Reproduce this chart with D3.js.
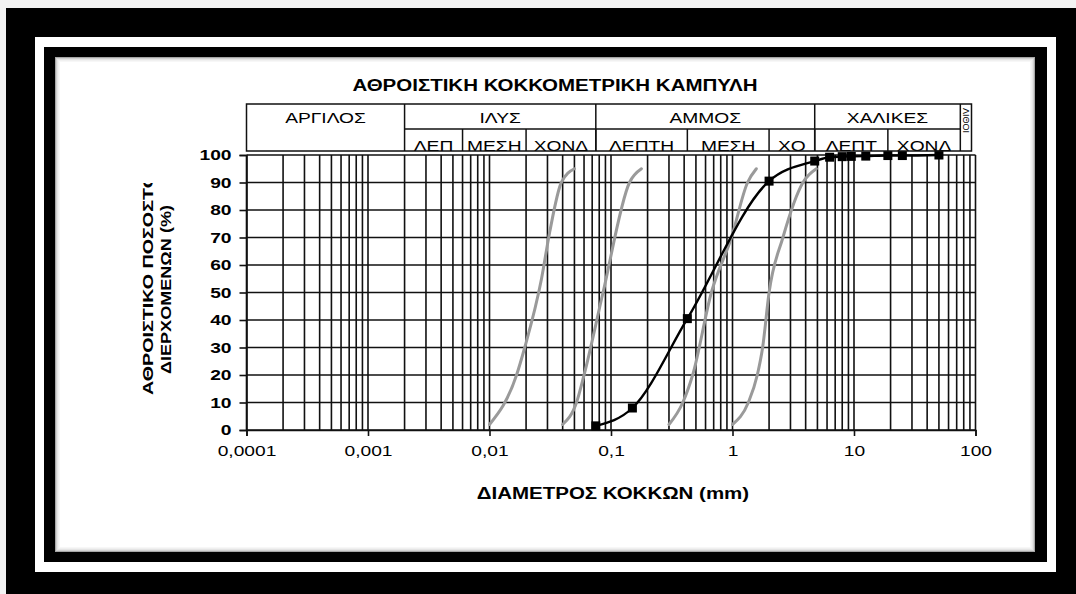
<!DOCTYPE html>
<html>
<head>
<meta charset="utf-8">
<script src="https://cdn.jsdelivr.net/npm/d3@7"></script>
<style>
  html, body { margin: 0; padding: 0; background: #f3f3f3; }
  svg { display: block; font-family: "Liberation Sans", Arial, sans-serif; }
</style>
</head>
<body>
<svg id="chart" width="1076" height="594"></svg>
<script>
// Sample gradation: sieve opening (mm) and cumulative % passing
const sieveSizes     = [0.075, 0.15, 0.425, 2, 4.75, 6.3, 8, 9.5, 12.5, 19, 25, 50];
const percentPassing = [1.5, 8, 40.5, 90.5, 97.8, 99.2, 99.4, 99.5, 99.6, 99.8, 99.8, 100];

// Grading envelope curves (grain size mm, % passing)
const curve1Size = [0.01, 0.0167, 0.0195, 0.0268, 0.0313, 0.039, 0.05];
const curve1Pass = [2, 20, 30, 55, 72, 90, 95];
const curve2Size = [0.04, 0.052, 0.06, 0.086, 0.142, 0.178];
const curve2Pass = [2, 10, 20, 50, 90, 95];
const curve3Size = [0.3, 0.39, 0.47, 0.67, 0.98, 1.33, 1.57];
const curve3Pass = [2, 10, 20, 50, 70, 90, 95];
const curve4Size = [1.0, 1.35, 1.6, 1.77, 2.0, 2.6, 3.8, 4.9];
const curve4Pass = [2, 10, 20, 30, 50, 70, 90, 95];

// Axis ticks
const xTickValues = [0.0001, 0.001, 0.01, 0.1, 1, 10, 100];
const xTickLabels = ["0,0001", "0,001", "0,01", "0,1", "1", "10", "100"];
const yTickValues = [0, 10, 20, 30, 40, 50, 60, 70, 80, 90, 100];

// Soil classification bands (boundaries in mm)
const mainClasses = ["ΑΡΓΙΛΟΣ", "ΙΛΥΣ", "ΑΜΜΟΣ", "ΧΑΛΙΚΕΣ"];
const mainBounds  = [0.0001, 0.002, 0.075, 4.75, 75];
const subClasses  = ["ΛΕΠ", "ΜΕΣΗ", "ΧΟΝΔ", "ΛΕΠΤΗ", "ΜΕΣΗ", "ΧΟ", "ΛΕΠΤ", "ΧΟΝΔ"];
const subBounds   = [0.002, 0.006, 0.02, 0.075, 0.425, 2, 4.75, 19, 75];

const titleText = "ΑΘΡΟΙΣΤΙΚΗ ΚΟΚΚΟΜΕΤΡΙΚΗ ΚΑΜΠΥΛΗ";
const xTitle = "ΔΙΑΜΕΤΡΟΣ ΚΟΚΚΩΝ (mm)";
const yTitleLines = ["ΑΘΡΟΙΣΤΙΚΟ ΠΟΣΟΣΤΟ", "ΔΙΕΡΧΟΜΕΝΩΝ (%)"];
const bouldersLabel = "ΛΙΘΟΙ";

const svg = d3.select("#chart");
const W = 1076, H = 594;

// ---- decorative frame ----
svg.append("rect").attr("width", W).attr("height", H).attr("fill", "#f3f3f3");
svg.append("rect").attr("x", 6).attr("y", 8).attr("width", W - 6).attr("height", H - 8).attr("fill", "#000");
svg.append("rect").attr("x", 35).attr("y", 37).attr("width", 1021).attr("height", 535).attr("fill", "#fff");
svg.append("rect").attr("x", 44).attr("y", 47).attr("width", 1003).attr("height", 515).attr("fill", "#000");
const panel = { x: 55, y: 57, w: 980, h: 495 };
svg.append("rect").attr("x", panel.x).attr("y", panel.y).attr("width", panel.w).attr("height", panel.h).attr("fill", "#fff");
// soft inset shadow along the panel edges
[0.35, 0.18, 0.10, 0.06, 0.03].forEach((o, i) => {
  svg.append("rect")
    .attr("x", panel.x + 0.5 + i).attr("y", panel.y + 0.5 + i)
    .attr("width", panel.w - 1 - 2 * i).attr("height", panel.h - 1 - 2 * i)
    .attr("fill", "none").attr("stroke", "#000").attr("stroke-opacity", o);
});

// ---- scales ----
const x = d3.scaleLog().domain([1e-4, 100]).range([246.5, 975.5]);
const y = d3.scaleLinear().domain([0, 100]).range([430, 155]);

const g = svg.append("g");

// ---- grid ----
const minorValues = [];
for (let e = -4; e <= 1; e++) for (let k = 1; k <= 9; k++) minorValues.push(k * Math.pow(10, e));
minorValues.push(100);

g.append("g").selectAll("line").data(minorValues).join("line")
  .attr("x1", d => x(d)).attr("x2", d => x(d))
  .attr("y1", y(0)).attr("y2", y(100))
  .attr("stroke", "#111").attr("stroke-width", 1.6);

g.append("g").selectAll("line").data(yTickValues).join("line")
  .attr("x1", x(1e-4)).attr("x2", x(100))
  .attr("y1", d => y(d)).attr("y2", d => y(d))
  .attr("stroke", "#111").attr("stroke-width", 1.6);

// ---- axes ----
const yAxis = g.append("g").attr("transform", `translate(${x(1e-4)},0)`)
  .call(d3.axisLeft(y).tickValues(yTickValues).tickSize(7).tickPadding(8));
const xAxis = g.append("g").attr("transform", `translate(0,${y(0)})`)
  .call(d3.axisBottom(x).tickValues(xTickValues).tickSize(6).tickPadding(9)
        .tickFormat((d, i) => xTickLabels[i]));
[yAxis, xAxis].forEach(a => {
  a.selectAll("path, line").attr("stroke", "#111").attr("stroke-width", 1.6);
  a.selectAll("text").attr("fill", "#000").attr("font-family", "Liberation Sans, Arial, sans-serif")
    .attr("class", "stretch");
});
yAxis.selectAll("text").attr("font-size", 15).attr("font-weight", "bold");
xAxis.selectAll("text").attr("font-size", 15);

// ---- envelope curves ----
const curveLine = d3.line().x(d => x(d[0])).y(d => y(d[1])).curve(d3.curveMonotoneX);
const envelopes = [
  d3.zip(curve1Size, curve1Pass),
  d3.zip(curve2Size, curve2Pass),
  d3.zip(curve3Size, curve3Pass),
  d3.zip(curve4Size, curve4Pass)
];
g.append("g").selectAll("path").data(envelopes).join("path")
  .attr("d", curveLine).attr("fill", "none")
  .attr("stroke", "#9a9a9a").attr("stroke-width", 3).attr("stroke-linecap", "round");

// ---- sample curve ----
const sample = d3.zip(sieveSizes, percentPassing);
g.append("path").datum(sample).attr("d", curveLine)
  .attr("fill", "none").attr("stroke", "#000").attr("stroke-width", 2.4);
const ms = 9;
g.append("g").selectAll("rect").data(sample).join("rect")
  .attr("x", d => x(d[0]) - ms / 2).attr("y", d => y(d[1]) - ms / 2)
  .attr("width", ms).attr("height", ms).attr("fill", "#000");

// ---- classification table above the plot ----
const tTop = 104, tMid = 129, tBot = 151;
const tLeft = x(1e-4), tRight = x(100) - 4;
const tbl = svg.append("g").attr("stroke", "#111").attr("stroke-width", 1.5);
tbl.append("rect").attr("x", tLeft).attr("y", tTop).attr("width", tRight - tLeft).attr("height", tBot - tTop).attr("fill", "none");
tbl.selectAll("line.main").data(mainBounds.slice(1)).join("line")
  .attr("x1", d => x(d)).attr("x2", d => x(d)).attr("y1", tTop).attr("y2", tBot);
tbl.append("line").attr("x1", x(0.002)).attr("x2", x(75)).attr("y1", tMid).attr("y2", tMid);
tbl.selectAll("line.sub").data(subBounds.slice(1, -1)).join("line")
  .attr("x1", d => x(d)).attr("x2", d => x(d)).attr("y1", tMid).attr("y2", tBot);

const headerText = svg.append("g").attr("font-size", 15).attr("fill", "#000").attr("text-anchor", "middle");
headerText.selectAll("text.main").data(mainClasses).join("text")
  .attr("class", "stretch")
  .attr("x", (d, i) => (x(mainBounds[i]) + x(mainBounds[i + 1])) / 2)
  .attr("y", 123).text(d => d);
// lower row text sits on the table bottom edge, so clip it there
svg.append("clipPath").attr("id", "subclip").append("rect")
  .attr("x", tLeft).attr("y", tMid).attr("width", tRight - tLeft).attr("height", tBot - tMid);
headerText.append("g").attr("clip-path", "url(#subclip)")
  .selectAll("text").data(subClasses).join("text")
  .attr("class", "stretch")
  .attr("x", (d, i) => (x(subBounds[i]) + x(subBounds[i + 1])) / 2)
  .attr("y", 151).text(d => d);
tbl.raise();

// narrow boulders column with rotated label
svg.append("clipPath").attr("id", "bclip").append("rect")
  .attr("x", x(75)).attr("y", tTop).attr("width", tRight - x(75)).attr("height", tBot - tTop);
svg.append("g").attr("clip-path", "url(#bclip)").append("text")
  .attr("transform", `translate(${(x(75) + tRight) / 2 - 3},${tTop + 4}) rotate(90)`)
  .attr("font-size", 9).attr("fill", "#000").text(bouldersLabel);

// ---- titles ----
svg.append("text").attr("class", "stretch").attr("x", 555).attr("y", 91)
  .attr("text-anchor", "middle").attr("font-size", 16).attr("font-weight", "bold")
  .text(titleText);
svg.append("text").attr("class", "stretch").attr("x", 613).attr("y", 499)
  .attr("text-anchor", "middle").attr("font-size", 16).attr("font-weight", "bold")
  .text(xTitle);

svg.append("clipPath").attr("id", "yclip").append("rect")
  .attr("x", 100).attr("y", 183).attr("width", 100).attr("height", 260);
const yt = svg.append("g").attr("clip-path", "url(#yclip)");
yt.append("text").attr("transform", "translate(153,395) rotate(-90)")
  .attr("text-anchor", "start").attr("font-size", 15).attr("font-weight", "bold")
  .attr("textLength", 222).attr("lengthAdjust", "spacingAndGlyphs")
  .text(yTitleLines[0]);
yt.append("text").attr("transform", "translate(171,289.5) rotate(-90)")
  .attr("text-anchor", "middle").attr("font-size", 15).attr("font-weight", "bold")
  .attr("textLength", 169).attr("lengthAdjust", "spacingAndGlyphs")
  .text(yTitleLines[1]);

// horizontal widening of the label lettering
svg.selectAll("text.stretch").each(function () {
  const w = this.getComputedTextLength();
  d3.select(this).attr("textLength", w * 1.28).attr("lengthAdjust", "spacingAndGlyphs");
});
</script>
</body>
</html>
